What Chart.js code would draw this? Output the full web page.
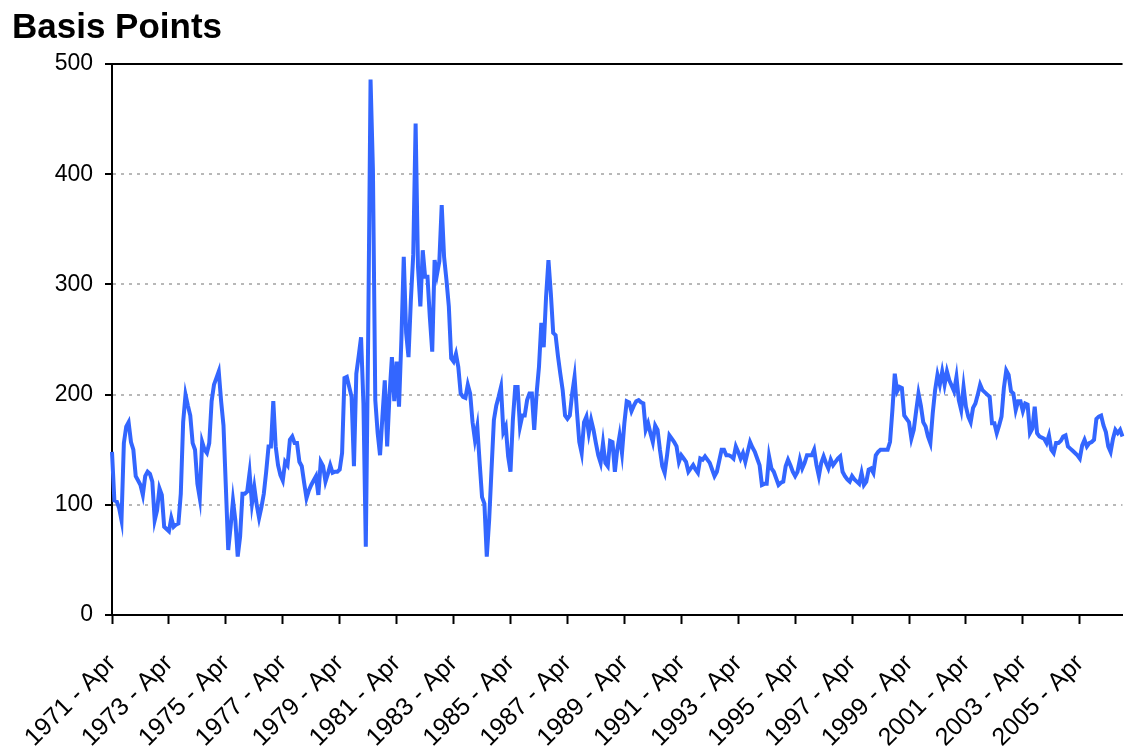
<!DOCTYPE html>
<html>
<head>
<meta charset="utf-8">
<title>Basis Points</title>
<script src="https://cdn.jsdelivr.net/npm/chart.js@4.4.1/dist/chart.umd.min.js"></script>
<style>
  body { margin: 0; background: #fff; }
  #wrap { width: 1126px; height: 756px; position: relative; }
</style>
</head>
<body>
<div id="wrap"><canvas id="myChart"></canvas></div>
<script>
//DATA
const monthNames = ["Jan", "Feb", "Mar", "Apr", "May", "Jun", "Jul", "Aug", "Sep", "Oct", "Nov", "Dec"];
const startYear = 1971;
const startMonth = 3; // Apr

const tickLabels = ["1971 - Apr", "1973 - Apr", "1975 - Apr", "1977 - Apr", "1979 - Apr", "1981 - Apr",
    "1983 - Apr", "1985 - Apr", "1987 - Apr", "1989 - Apr", "1991 - Apr", "1993 - Apr",
    "1995 - Apr", "1997 - Apr", "1999 - Apr", "2001 - Apr", "2003 - Apr", "2005 - Apr"];

const yTicks = [0, 100, 200, 300, 400, 500];

// monthly spread, basis points, Apr 1971 onward (12 per row)
const spread = [
    148, 104, 103, 97, 86, 156, 171, 175, 157, 150, 126, 122,
    118, 109, 126, 130, 128, 121, 86, 95, 115, 109, 80, 78,
    76, 88, 80, 82, 83, 110, 175, 200, 190, 181, 156, 150,
    119, 106, 157, 150, 147, 156, 194, 209, 215, 221, 194, 172,
    116, 59, 80, 104, 86, 53, 71, 110, 110, 112, 129, 101,
    116, 100, 88, 98, 110, 130, 153, 153, 194, 153, 136, 127,
    122, 139, 136, 159, 162, 156, 156, 139, 135, 120, 106, 113,
    118, 122, 126, 109, 139, 135, 121, 128, 136, 129, 130, 130,
    132, 147, 215, 216, 207, 198, 135, 219, 235, 252, 192, 62,
    253, 486, 404, 195, 165, 145, 180, 213, 153, 200, 234, 194,
    230, 189, 250, 325, 256, 234, 286, 327, 446, 316, 280, 331,
    307, 307, 270, 239, 322, 309, 321, 372, 325, 304, 280, 233,
    230, 237, 225, 201, 198, 197, 209, 201, 175, 159, 171, 138,
    107, 101, 53, 86, 132, 177, 190, 198, 207, 166, 171, 144,
    130, 177, 207, 207, 171, 181, 181, 195, 201, 201, 168, 201,
    225, 265, 243, 289, 322, 292, 256, 254, 235, 219, 204, 181,
    178, 181, 201, 216, 185, 157, 147, 175, 180, 165, 177, 168,
    156, 145, 138, 156, 138, 135, 158, 157, 130, 150, 163, 147,
    174, 194, 193, 185, 190, 194, 195, 193, 192, 168, 174, 165,
    157, 172, 168, 150, 135, 129, 145, 163, 160, 157, 153, 139,
    145, 142, 139, 130, 133, 136, 132, 129, 142, 141, 144, 141,
    138, 132, 126, 130, 140, 150, 150, 145, 145, 144, 142, 153,
    148, 142, 147, 139, 148, 157, 152, 148, 142, 136, 118, 119,
    119, 144, 133, 130, 124, 118, 120, 121, 135, 141, 136, 130,
    126, 130, 141, 133, 138, 145, 145, 145, 150, 136, 126, 138,
    144, 138, 133, 141, 136, 139, 142, 144, 130, 126, 123, 121,
    126, 123, 121, 119, 129, 118, 121, 132, 133, 129, 145, 148,
    150, 150, 150, 150, 157, 186, 219, 203, 207, 206, 181, 178,
    175, 160, 168, 185, 201, 190, 175, 171, 162, 156, 183, 204,
    218, 209, 221, 209, 221, 213, 208, 203, 216, 195, 186, 207,
    189, 180, 175, 188, 192, 200, 209, 204, 202, 200, 198, 174,
    174, 165, 172, 180, 206, 222, 218, 203, 201, 186, 194, 194,
    185, 192, 191, 165, 169, 189, 165, 162, 161, 160, 156, 163,
    150, 147, 156, 156, 158, 162, 163, 153, 151, 149, 147, 145,
    142, 154, 159, 153, 156, 157, 159, 178, 180, 181, 172, 166,
    153, 148, 160, 168, 165, 168, 162
];

const months = [];
for (let i = 0; i < spread.length; i++) {
    const m = startMonth + i;
    months.push((startYear + Math.floor(m / 12)) + " - " + monthNames[m % 12]);
}

const fontFamily = "'Liberation Sans', Arial, sans-serif";

// black line along the top of the plot
const topBorder = {
    id: "topBorder",
    afterDraw: (chart) => {
        const {ctx, chartArea} = chart;
        ctx.save();
        ctx.strokeStyle = "#000";
        ctx.lineWidth = 2;
        ctx.beginPath();
        ctx.moveTo(chartArea.left, chartArea.top);
        ctx.lineTo(chartArea.right, chartArea.top);
        ctx.stroke();
        ctx.restore();
    }
};

const config = {
    type: "line",
    data: {
        labels: months,
        datasets: [
            {
                label: "Spread",
                data: spread,
                borderColor: "#3366ff",
                backgroundColor: "#3366ff",
                borderWidth: 4,
                pointRadius: 0,
                tension: 0,
                fill: false,
            }
        ]
    },
    options: {
        responsive: true,
        maintainAspectRatio: false,
        animation: false,
        layout: { padding: { left: 12, right: 0, top: 0, bottom: 0 } },
        plugins: {
            legend: { display: false },
            tooltip: { enabled: false },
            title: {
                display: true,
                text: "Basis Points",
                align: "start",
                color: "#000",
                font: { family: fontFamily, size: 35, weight: "bold", lineHeight: 1.2 },
                padding: { top: 7, bottom: 15 }
            }
        },
        scales: {
            x: {
                type: "category",
                offset: false,
                afterBuildTicks: (axis) => {
                    axis.ticks = axis.ticks.filter((t) => tickLabels.includes(months[t.value]));
                },
                afterFit: (axis) => { axis.height = 141; },
                grid: {
                    display: true,
                    drawOnChartArea: false,
                    drawTicks: true,
                    tickLength: 9,
                    tickColor: "#000",
                    tickWidth: 2
                },
                border: { display: true, color: "#000", width: 2 },
                ticks: {
                    autoSkip: false,
                    maxRotation: 45,
                    minRotation: 45,
                    padding: 25,
                    color: "#000",
                    font: { family: fontFamily, size: 25 }
                }
            },
            y: {
                min: 0,
                max: 500,
                afterBuildTicks: (axis) => {
                    axis.ticks = yTicks.map((v) => ({ value: v }));
                },
                afterFit: (axis) => { axis.width = 100; },
                grid: {
                    color: "#b8b8b8",
                    lineWidth: 2,
                    drawTicks: true,
                    tickLength: 7,
                    tickColor: "#000",
                    tickWidth: 2
                },
                border: { display: true, color: "#000", width: 2, dash: [3, 5] },
                ticks: {
                    padding: 12,
                    color: "#000",
                    font: { family: fontFamily, size: 23 }
                }
            }
        }
    },
    plugins: [topBorder]
};

var myChart = new Chart(document.querySelector("#myChart"), config);
</script>
</body>
</html>
